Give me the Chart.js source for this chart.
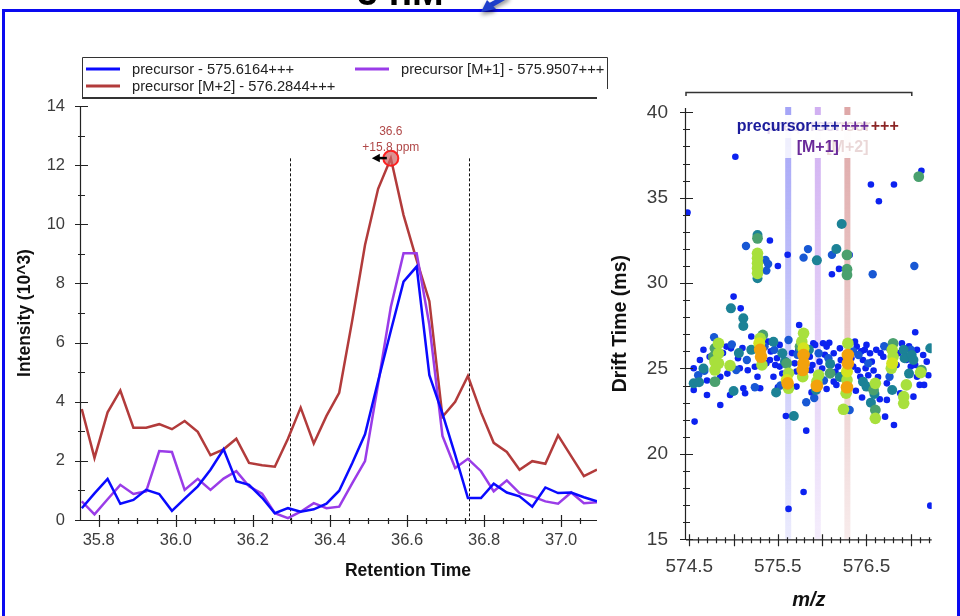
<!DOCTYPE html>
<html>
<head>
<meta charset="utf-8">
<title>Precursor chromatogram and drift time</title>
<script src="https://cdn.jsdelivr.net/npm/chart.js@4.4.1/dist/chart.umd.min.js"></script>
<style>
  body { margin: 0; background: #fff; }
  #wrap { position: relative; width: 960px; height: 616px; overflow: hidden; background: #fff; }
  #frame { position: absolute; left: 2px; top: 9px; width: 958px; height: 700px; border: 3px solid #0a0af0; box-sizing: border-box; }
  canvas { position: absolute; left: 0; top: 0; }
</style>
</head>
<body>
<div id="wrap">
  <div id="frame"></div>
  <canvas id="chrom" width="960" height="616"></canvas>
  <canvas id="mobility" width="960" height="616"></canvas>
</div>
<script>
const FONT = '"Liberation Sans", Arial, sans-serif';

// chromatogram: retention time (min) and intensity (10^3) of the three isotopes
const retentionTime = [35.756, 35.789, 35.823, 35.856, 35.890, 35.923, 35.957, 35.990, 36.023, 36.057,
  36.090, 36.124, 36.157, 36.190, 36.224, 36.257, 36.291, 36.324, 36.358, 36.391,
  36.424, 36.458, 36.491, 36.525, 36.558, 36.591, 36.625, 36.658, 36.692, 36.725,
  36.758, 36.792, 36.825, 36.859, 36.892, 36.925, 36.959, 36.992, 37.026, 37.059, 37.093];
const precursorInt = [0.40, 0.90, 1.39, 0.55, 0.68, 1.02, 0.88, 0.31, 0.72, 1.14,
  1.70, 2.39, 1.31, 1.19, 0.75, 0.23, 0.40, 0.28, 0.36, 0.55,
  0.99, 1.93, 2.90, 4.70, 6.40, 8.06, 8.57, 4.90, 3.60, 2.20,
  0.74, 0.74, 1.23, 0.93, 0.80, 0.45, 1.10, 0.91, 0.93, 0.77, 0.63];
const m1Int = [0.63, 0.19, 0.70, 1.19, 0.88, 0.97, 2.33, 2.30, 1.02, 1.39,
  1.02, 1.40, 1.65, 1.14, 0.89, 0.23, 0.06, 0.28, 0.57, 0.40,
  0.45, 1.25, 1.99, 4.60, 7.20, 9.02, 9.02, 6.60, 2.84, 1.76,
  2.07, 1.65, 0.97, 1.34, 0.91, 0.80, 0.63, 0.55, 0.93, 0.57, 0.60];
const m2Int = [3.75, 2.10, 3.64, 4.38, 3.12, 3.12, 3.24, 3.07, 3.35, 2.98,
  2.19, 2.39, 2.75, 1.93, 1.85, 1.80, 2.75, 3.80, 2.59, 3.52,
  4.30, 6.76, 9.30, 11.20, 12.23, 10.31, 8.79, 7.40, 3.49, 4.00,
  4.87, 3.64, 2.61, 2.30, 1.70, 1.99, 1.90, 2.86, 2.16, 1.48, 1.70];
const seriesNames = ['precursor - 575.6164+++', 'precursor [M+1] - 575.9507+++', 'precursor [M+2] - 576.2844+++'];
const rtTicks = [35.8, 36.0, 36.2, 36.4, 36.6, 36.8, 37.0];
const intensityTicks = [0, 2, 4, 6, 8, 10, 12, 14];
const integrationBounds = [36.297, 36.762];
const peakIndex = 24;
const peakPpm = '+15.8 ppm';

// drift time vs m/z, points grouped by intensity level (low -> high)
const level0 = [[575.02,37.40],[574.48,34.13],[576.55,35.77],[576.81,35.77],[576.64,34.79],[577.12,36.58],[575.41,32.49],
  [575.50,31.00],[575.61,31.66],[576.11,30.52],[576.19,30.83],[576.31,31.65],[575.00,29.21],[575.08,28.52],[575.74,27.55],
  [577.05,27.12],[574.55,25.01],[574.55,23.74],[574.56,21.89],[574.92,26.28],[574.85,22.86],[574.97,26.18],[574.96,23.45],
  [575.11,23.84],[575.13,23.55],[575.27,24.52],[575.30,23.84],[575.41,25.50],[575.39,26.57],[575.49,25.60],[575.52,25.11],
  [575.52,26.38],[575.59,22.22],[575.71,23.94],[575.73,26.09],[575.82,21.36],[575.79,17.77],[575.62,16.78],[575.90,26.48],
  [575.97,25.40],[575.92,26.38],[576.05,26.28],[576.13,24.23],[576.16,24.04],[576.20,26.18],[576.21,25.50],[576.37,26.57],
  [576.39,26.28],[576.46,25.50],[576.48,26.09],[576.50,26.38],[576.49,25.01],[576.54,25.89],[576.58,24.88],[576.71,22.18],
  [576.73,23.16],[576.81,21.69],[576.90,26.47],[577.03,23.35],[577.10,24.04],[577.15,24.04],[577.14,25.79],[577.22,16.97],
  [574.73,25.69],[574.85,24.52],[575.07,25.01],[575.20,26.87],[575.37,25.30],[575.45,24.52],[575.71,24.82],[575.86,25.69],
  [576.01,26.48],[576.13,25.89],[576.18,25.11],[576.35,25.11],[576.43,24.52],[576.61,26.09],[576.69,25.69],[576.73,24.13],
  [576.86,25.89],[577.00,25.11],[577.07,26.09],[577.07,24.52],[576.88,23.55],[574.70,23.45],
  [574.62,25.50],[574.66,26.10],[574.70,24.30],[574.88,25.90],[574.93,24.70],[575.05,25.60],[575.10,26.20],[575.16,24.90],
  [575.24,25.10],[575.42,26.00],[575.47,25.20],[575.55,24.70],[575.66,25.90],[575.69,25.30],[575.87,24.90],[575.89,25.20],
  [576.00,25.00],[576.03,25.80],[576.08,26.50],[576.15,24.80],[576.23,24.60],[576.33,25.60],[576.40,24.90],[576.44,26.00],
  [576.52,24.60],[576.56,25.40],[576.63,24.50],[576.66,25.90],[576.75,26.20],[576.84,25.20],[576.95,25.50],[576.98,26.30],
  [577.05,25.20],[577.18,25.40],[577.20,24.60],[575.50,23.90],[575.88,23.60],[576.05,23.80],[576.38,23.70],[576.45,23.30],
  [576.65,23.20]];
const level1 = [[575.14,32.17],[575.36,31.35],[575.39,31.12],[575.37,30.73],[575.79,31.49],[575.84,31.99],[576.11,31.65],
  [576.57,30.52],[577.04,31.00],[574.67,24.86],[574.78,26.83],[575.03,24.91],[575.15,25.50],[575.35,26.28],[575.46,26.09],
  [575.62,26.67],[575.82,23.02],[575.91,23.27],[575.96,25.89],[576.07,25.60],[576.31,22.57],[576.41,25.79],[576.52,25.30],
  [576.76,24.52],[574.60,24.60],[574.98,26.40],[575.24,23.90],[575.53,24.00],[575.72,25.80],[576.02,24.30],[576.35,26.00],
  [576.70,26.30],[577.00,26.10]];
const level2 = [[576.22,33.46],[575.27,32.82],[575.27,30.28],[575.94,31.33],[576.16,32.00],[574.97,28.52],[575.11,27.94],
  [575.11,27.49],[574.55,24.13],[574.61,24.19],[575.00,23.68],[575.20,26.09],[575.45,26.57],[575.55,25.89],[575.58,25.40],
  [575.68,22.22],[575.93,23.74],[576.09,25.27],[576.46,24.23],[576.50,23.94],[576.59,23.51],[576.79,23.74],[576.92,26.09],
  [576.93,25.60],[577.01,25.79],[577.03,25.50],[577.22,26.18],[574.66,25.00],[575.06,25.90],[575.48,23.60],[575.85,26.10],
  [576.20,24.50],[576.55,23.00],[576.98,24.70]];
const level3 = [[577.09,36.23],[575.27,32.62],[576.28,31.65],[576.28,30.81],[576.28,30.48],[574.79,26.18],[574.79,24.23],
  [574.77,25.69],[575.33,26.96],[575.60,25.30],[575.75,26.28],[576.09,24.72],[576.58,23.74],[576.60,22.57],[576.80,26.47],
  [577.12,24.91]];
const level4 = [[575.27,31.74],[575.27,31.45],[575.27,31.16],[575.27,30.87],[575.27,30.57],[574.79,25.40],[574.79,24.91],
  [574.83,26.47],[574.83,25.89],[574.83,25.30],[574.96,25.17],[575.30,26.77],[575.32,25.21],[575.62,24.72],[575.62,23.84],
  [575.79,27.06],[575.77,26.57],[575.78,24.52],[575.96,24.62],[575.94,24.23],[576.24,22.61],[576.29,26.47],[576.28,24.33],
  [576.27,23.55],[576.60,24.13],[576.60,22.08],[576.79,26.09],[576.80,25.69],[576.78,25.01],[576.92,23.35],[576.92,22.96],
  [576.95,24.04],[577.11,24.76]];
const level5 = [[575.29,26.48],[575.60,24.33],[575.79,26.18],[576.28,24.82],[576.79,25.30]];
const level6 = [[575.30,26.09],[575.31,25.69],[575.61,24.13],[575.79,25.79],[575.79,25.30],[575.78,24.91],[575.94,23.98],
  [576.29,25.79],[576.29,25.30],[576.28,23.90]];
const isotopeMz = [575.6164, 575.9507, 576.2844];
const isotopeTags = ['', '[M+1]', '[M+2]'];
const mzTicks = [574.5, 575.5, 576.5];
const driftTicks = [15, 20, 25, 30, 35, 40];

const seriesColors = ['#0a0aff', '#9a3ce8', '#b23b3b'];
const levelColors = ['#0c22f0', '#1858d4', '#1c8296', '#4aa06e', '#a8e03c', '#d4e41e', '#f2a20c'];
const levelRadius = [3.3, 4.2, 5, 5.4, 5.8, 6, 6.3];

// axis line + major/minor ticks crossing it
function drawAxis(ctx, scale, minorStep, majorStep, horizontal) {
  ctx.save();
  ctx.strokeStyle = '#222';
  ctx.lineWidth = 1.2;
  ctx.beginPath();
  if (horizontal) {
    ctx.moveTo(scale.left, scale.top + 0.5); ctx.lineTo(scale.right, scale.top + 0.5);
  } else {
    ctx.moveTo(scale.right - 0.5, scale.top); ctx.lineTo(scale.right - 0.5, scale.bottom);
  }
  const first = Math.ceil(scale.min / minorStep - 1e-6);
  const last = Math.floor(scale.max / minorStep + 1e-6);
  for (let i = first; i <= last; i++) {
    const v = i * minorStep;
    const r = v / majorStep;
    const major = Math.abs(r - Math.round(r)) < 1e-6;
    const p = Math.round(scale.getPixelForValue(v)) + 0.5;
    if (horizontal) {
      const y0 = scale.top;
      ctx.moveTo(p, y0 - (major ? 5 : 2)); ctx.lineTo(p, y0 + (major ? 7 : 4));
    } else {
      const x0 = scale.right;
      ctx.moveTo(x0 - (major ? 6 : 3), p); ctx.lineTo(x0 + (major ? 7 : 4), p);
    }
  }
  ctx.stroke();
  ctx.restore();
}

const chromDecor = {
  id: 'chromDecor',
  beforeDatasetsDraw(chart) {
    const {ctx, scales: {x, y}} = chart;
    const top = y.getPixelForValue(m2Int[peakIndex]);
    ctx.save();
    ctx.strokeStyle = '#111';
    ctx.lineWidth = 1;
    ctx.setLineDash([3, 2]);
    integrationBounds.forEach(rt => {
      const px = Math.round(x.getPixelForValue(rt)) + 0.5;
      ctx.beginPath(); ctx.moveTo(px, top); ctx.lineTo(px, y.bottom); ctx.stroke();
    });
    ctx.restore();
  },
  afterDatasetsDraw(chart) {
    const {ctx, scales: {x, y}} = chart;
    drawAxis(ctx, x, 0.05, 0.2, true);
    drawAxis(ctx, y, 1, 2, false);

    // apex marker on the M+2 trace
    const px = x.getPixelForValue(retentionTime[peakIndex]);
    const py = y.getPixelForValue(m2Int[peakIndex]);
    ctx.save();
    ctx.beginPath(); ctx.arc(px, py, 7.5, 0, Math.PI * 2);
    ctx.fillStyle = 'rgba(205,100,100,0.7)'; ctx.fill();
    ctx.lineWidth = 2; ctx.strokeStyle = 'rgba(255,25,25,0.95)'; ctx.stroke();
    ctx.fillStyle = '#000';
    ctx.beginPath(); ctx.moveTo(px - 19, py); ctx.lineTo(px - 11, py - 4.5); ctx.lineTo(px - 11, py + 4); ctx.closePath(); ctx.fill();
    ctx.fillRect(px - 12, py - 1.5, 8, 2.5);
    ctx.fillStyle = '#b04848';
    ctx.font = '12px ' + FONT;
    ctx.textAlign = 'center'; ctx.textBaseline = 'middle';
    ctx.fillText(retentionTime[peakIndex].toFixed(1), px, py - 27);
    ctx.fillText(peakPpm, px, py - 10.5);
    ctx.restore();

    // legend box
    ctx.save();
    ctx.strokeStyle = '#333'; ctx.lineWidth = 1;
    ctx.beginPath();
    ctx.moveTo(82.5, 57.5); ctx.lineTo(607.5, 57.5);
    ctx.moveTo(82.5, 57.5); ctx.lineTo(82.5, 98);
    ctx.moveTo(607.5, 57.5); ctx.lineTo(607.5, 89);
    ctx.stroke();
    ctx.lineWidth = 2;
    ctx.beginPath(); ctx.moveTo(82, 98); ctx.lineTo(597, 98); ctx.stroke();
    const slots = [[86, 69], [355, 69], [86, 86]];
    ctx.font = '14.7px ' + FONT;
    ctx.textBaseline = 'middle';
    chart.data.datasets.forEach((ds, i) => {
      const [lx, ly] = slots[i];
      ctx.strokeStyle = ds.borderColor; ctx.lineWidth = 3;
      ctx.beginPath(); ctx.moveTo(lx, ly); ctx.lineTo(lx + 34, ly); ctx.stroke();
      ctx.fillStyle = '#222';
      ctx.fillText(ds.label, lx + 46, ly + 1);
    });
    ctx.restore();

    // axis titles
    ctx.save();
    ctx.fillStyle = '#111';
    ctx.font = 'bold 17.5px ' + FONT;
    ctx.textAlign = 'center'; ctx.textBaseline = 'middle';
    ctx.fillText('Retention Time', (x.left + x.right) / 2 + 69, 571);
    ctx.translate(25, (y.top + y.bottom) / 2);
    ctx.rotate(-Math.PI / 2);
    ctx.fillText('Intensity (10^3)', 0, 0);
    ctx.restore();

    // caption above the frame and its pointer
    ctx.save();
    ctx.fillStyle = '#000';
    ctx.font = 'bold 38px ' + FONT;
    ctx.textBaseline = 'alphabetic';
    ctx.fillText('5 nM', 357, 5);
    ctx.shadowColor = 'rgba(0,0,0,0.45)'; ctx.shadowBlur = 4; ctx.shadowOffsetY = 3;
    ctx.strokeStyle = '#1f3fcc'; ctx.fillStyle = '#1f3fcc';
    ctx.lineWidth = 5; ctx.lineCap = 'round';
    ctx.beginPath(); ctx.moveTo(507, -4); ctx.lineTo(491, 5); ctx.stroke();
    ctx.beginPath(); ctx.moveTo(481, 12); ctx.lineTo(487, 0); ctx.lineTo(496, 9); ctx.closePath(); ctx.fill();
    ctx.restore();
  }
};

new Chart(document.getElementById('chrom'), {
  type: 'line',
  data: {
    datasets: [precursorInt, m1Int, m2Int].map((vals, i) => ({
      label: seriesNames[i],
      data: vals.map((v, k) => ({x: retentionTime[k], y: v})),
      borderColor: seriesColors[i],
      borderWidth: 2.5,
      pointRadius: 0,
      tension: 0
    }))
  },
  options: {
    responsive: false, animation: false, devicePixelRatio: 1, events: [],
    layout: {padding: {top: 106, right: 363, left: 0, bottom: 0}},
    plugins: {legend: {display: false}, tooltip: {enabled: false}},
    scales: {
      x: {
        type: 'linear', min: 35.754, max: 37.093,
        grid: {display: false, drawTicks: false}, border: {display: false},
        afterBuildTicks: s => { s.ticks = rtTicks.map(v => ({value: v})); },
        afterFit: s => { s.height = 96; },
        ticks: {padding: 11, color: '#3c3c3c', font: {family: FONT, size: 16.5}, maxRotation: 0, autoSkip: false,
          callback: v => v.toFixed(1)}
      },
      y: {
        type: 'linear', min: 0, max: 14,
        grid: {display: false, drawTicks: false}, border: {display: false},
        afterBuildTicks: s => { s.ticks = intensityTicks.map(v => ({value: v})); },
        afterFit: s => { s.width = 81; },
        ticks: {padding: 16, color: '#3c3c3c', font: {family: FONT, size: 16.5}}
      }
    }
  },
  plugins: [chromDecor]
});

const mobilityDecor = {
  id: 'mobilityDecor',
  beforeDatasetsDraw(chart) {
    const {ctx, chartArea, scales: {x}} = chart;
    const bandRgb = ['90,90,240', '170,110,230', '195,95,95'];
    ctx.save();
    isotopeMz.forEach((mz, i) => {
      const px = x.getPixelForValue(mz);
      const g = ctx.createLinearGradient(0, chartArea.top, 0, chartArea.bottom);
      g.addColorStop(0, 'rgba(' + bandRgb[i] + ',0.55)');
      g.addColorStop(0.6, 'rgba(' + bandRgb[i] + ',0.3)');
      g.addColorStop(1, 'rgba(' + bandRgb[i] + ',0.12)');
      ctx.fillStyle = g;
      ctx.fillRect(px - 3, chartArea.top - 1, 6, chartArea.bottom - chartArea.top + 1);
    });
    ctx.restore();
  },
  afterDatasetsDraw(chart) {
    const {ctx, chartArea, scales: {x, y}} = chart;
    drawAxis(ctx, x, 0.1, 0.5, true);
    drawAxis(ctx, y, 1, 5, false);

    // isotope labels, drawn M+2 first so the monoisotopic one sits on top
    const textColors = ['#1c1c9c', '#6a2a9a', '#8b2525'];
    ctx.save();
    ctx.font = 'bold 16px ' + FONT;
    ctx.textAlign = 'center'; ctx.textBaseline = 'middle';
    for (let i = isotopeMz.length - 1; i >= 0; i--) {
      const cx = x.getPixelForValue(isotopeMz[i]);
      const w = ctx.measureText('precursor+++').width;
      const h = isotopeTags[i] ? 43 : 23;
      ctx.fillStyle = 'rgba(255,255,255,0.82)';
      ctx.fillRect(cx - w / 2 - 2, 115, w + 4, h);
      ctx.fillStyle = textColors[i];
      ctx.fillText('precursor+++', cx, 127);
      if (isotopeTags[i]) ctx.fillText(isotopeTags[i], cx, 148);
    }
    ctx.restore();

    // isolation bracket over the panel
    ctx.save();
    ctx.strokeStyle = '#333'; ctx.lineWidth = 1.5;
    const bx1 = chartArea.left, bx2 = x.getPixelForValue(577.0) + 1;
    ctx.beginPath();
    ctx.moveTo(bx1, 96); ctx.lineTo(bx1, 92.5); ctx.lineTo(bx2, 92.5); ctx.lineTo(bx2, 96);
    ctx.stroke();
    ctx.restore();

    // axis titles
    ctx.save();
    ctx.fillStyle = '#111';
    ctx.textAlign = 'center'; ctx.textBaseline = 'middle';
    ctx.font = 'italic bold 20px ' + FONT;
    ctx.fillText('m/z', (chartArea.left + chartArea.right) / 2, 600);
    ctx.font = 'bold 19.5px ' + FONT;
    ctx.translate(620.5, (y.top + y.bottom) / 2);
    ctx.rotate(-Math.PI / 2);
    ctx.fillText('Drift Time (ms)', 0, 0);
    ctx.restore();
  }
};

const levels = [level0, level1, level2, level3, level4, level5, level6];

new Chart(document.getElementById('mobility'), {
  type: 'scatter',
  data: {
    datasets: levels.map((pts, i) => ({
      data: pts.map(p => ({x: p[0], y: p[1]})),
      backgroundColor: levelColors[i],
      borderWidth: 0,
      pointRadius: levelRadius[i],
      order: levels.length - i
    }))
  },
  options: {
    responsive: false, animation: false, devicePixelRatio: 1, events: [],
    layout: {padding: {top: 108, right: 28.3, left: 0, bottom: 0}},
    plugins: {legend: {display: false}, tooltip: {enabled: false}},
    scales: {
      x: {
        type: 'linear', min: 574.463, max: 577.236,
        grid: {display: false, drawTicks: false}, border: {display: false},
        afterBuildTicks: s => { s.ticks = mzTicks.map(v => ({value: v})); },
        afterFit: s => { s.height = 76.7; },
        ticks: {padding: 16, color: '#3c3c3c', font: {family: FONT, size: 19}, maxRotation: 0, autoSkip: false,
          callback: v => v.toFixed(1)}
      },
      y: {
        type: 'linear', min: 15, max: 40.25,
        grid: {display: false, drawTicks: false}, border: {display: false},
        afterBuildTicks: s => { s.ticks = driftTicks.map(v => ({value: v})); },
        afterFit: s => { s.width = 686; },
        ticks: {padding: 18, color: '#3c3c3c', font: {family: FONT, size: 19}}
      }
    }
  },
  plugins: [mobilityDecor]
});
</script>
</body>
</html>
